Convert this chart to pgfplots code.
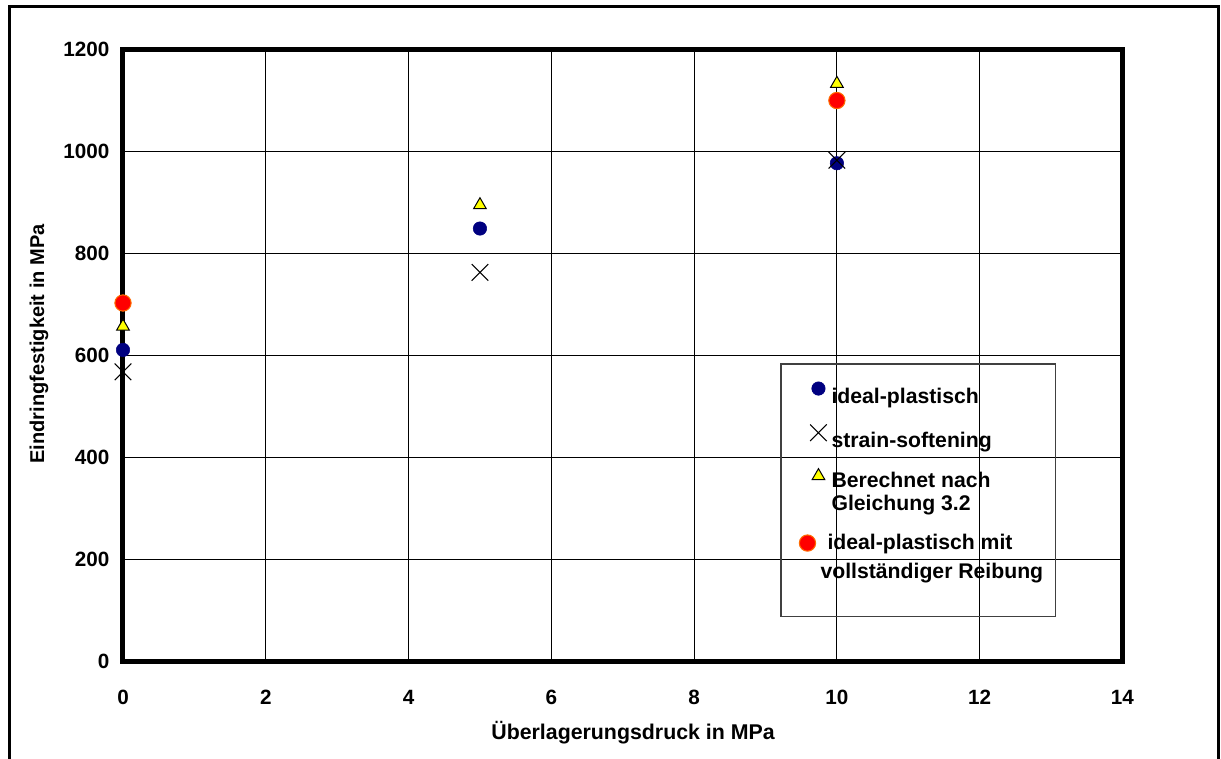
\documentclass[border=0pt]{standalone}
\usepackage{fontspec}
\setmainfont{Liberation Sans}
\usepackage{pgfplots}
\pgfplotsset{compat=1.18}
\definecolor{navyc}{HTML}{000080}
\definecolor{yelc}{HTML}{FFFF00}
\definecolor{redc}{HTML}{FF0000}
\definecolor{orac}{HTML}{FF6A00}
\begin{document}
\begin{tikzpicture}
\useasboundingbox (0pt,0pt) rectangle (915.75pt,-568.5pt);
\draw[line width=2.25pt, line join=miter] (7.1pt,-575pt) -- (7.1pt,-4.9pt) -- (914.0pt,-4.9pt) -- (914.0pt,-575pt);
\begin{axis}[
 at={(92.25pt,-495.75pt)}, anchor=south west,
 scale only axis, width=749.6pt, height=459pt,
 xmin=0, xmax=14, ymin=0, ymax=1200,
 xtick={0,2,...,14}, ytick={0,200,...,1200},
 grid=major, major grid style={black, line width=0.75pt},
 axis line style={line width=3.75pt},
 major tick length=0pt,
 clip=false,
 /pgf/number format/assume math mode=true,
 /pgf/number format/1000 sep={},
 tick label style={font=\fontsize{15.5}{18}\selectfont\bfseries, inner sep=0pt},
 xticklabel style={anchor=north, yshift=-21.75pt},
 yticklabel style={anchor=east, xshift=-10pt},
 every axis x label/.style={at={(rel axis cs:0.5103,-0.1275)}, anchor=base, font=\fontsize{16}{19}\selectfont\bfseries},
 every axis y label/.style={at={(rel axis cs:-0.079,0.518)}, rotate=90, anchor=base, font=\fontsize{15}{18}\selectfont\bfseries},
 xlabel={Überlagerungsdruck in MPa},
 ylabel={Eindringfestigkeit in MPa},
 legend cell align=left,
 legend style={at={(rel axis cs:0.6767,0.4562)}, anchor=north west, draw=none, fill=none, inner sep=0pt, outer sep=0pt, row sep=12.1pt, column sep=1.6pt, font=\fontsize{15.9}{18.5}\selectfont\bfseries, cells={anchor=north west, align=left, inner sep=0pt}},
]
\addplot[only marks, mark=*, mark size=5.05pt, mark options={fill=navyc, draw=navyc, line width=0.4pt}, legend image post style={yshift=-2.2pt}] coordinates {(0,610) (5,848) (10,976)};
\addlegendentry{ideal-plastisch}
\addplot[only marks, mark=x, mark size=8.8pt, mark options={draw=black, line width=0.8pt}, legend image post style={yshift=-2.2pt}] coordinates {(0,567) (5,762) (10,982)};
\addlegendentry{strain-softening}
\addplot[only marks, mark=triangle*, mark size=5.5pt, mark options={fill=yelc, draw=black, line width=0.75pt}, legend image post style={yshift=-5pt}] coordinates {(0,656) (5,894) (10,1132)};
\addlegendentry{Berechnet nach\\[-1pt]Gleichung 3.2}
\addplot[only marks, mark=*, mark size=6.1pt, mark options={fill=redc, draw=orac, line width=0.8pt}, legend image post style={yshift=-8.7pt, xshift=-8.25pt}] coordinates {(0,702) (10,1099)};
\addlegendentry{\hspace*{-3pt}ideal-plastisch mit\\[3pt]\hspace*{-8.25pt}vollständiger Reibung}
\draw[black!75, line width=0.9pt] (rel axis cs:0.6583,0.0724) rectangle (rel axis cs:0.9332,0.4853);
\end{axis}
\end{tikzpicture}
\end{document}
